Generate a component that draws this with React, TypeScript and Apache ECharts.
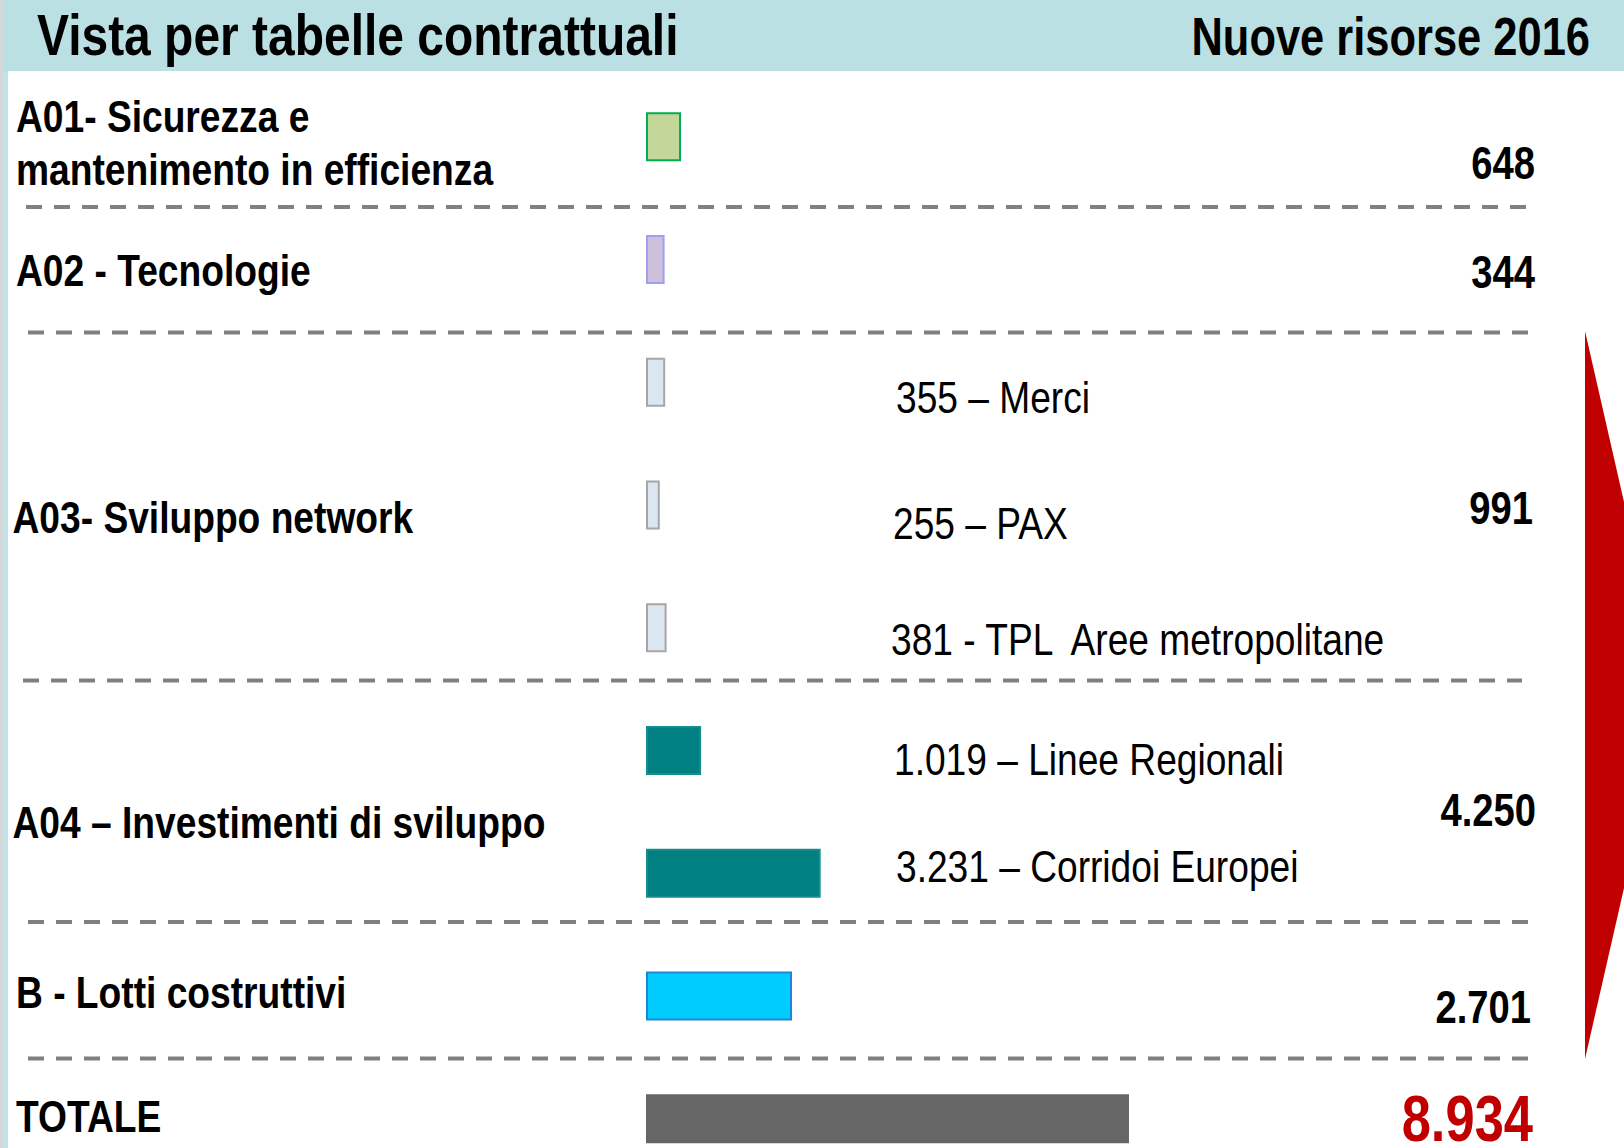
import React, { useEffect, useRef } from "react";
import * as echarts from "echarts";

// ---- data ----
const categories = [
  "A01",
  "A02",
  "Merci",
  "PAX",
  "TPL Aree metropolitane",
  "Linee Regionali",
  "Corridoi Europei",
  "B",
  "TOTALE",
];
const values = [648, 344, 355, 255, 381, 1019, 3231, 2701, 8934];
const barFills = ["#C4D79B", "#CCC0DA", "#DCE6F1", "#DCE6F1", "#DCE6F1", "#008080", "#008080", "#00CCFF", "#666666"];
const barBorders = ["#00B050", "#A0A0EE", "#A6A6A6", "#A6A6A6", "#A6A6A6", "#168C8C", "#168C8C", "#1E86D6", "#666666"];

const groupLabels = [
  "A01- Sicurezza e",
  "mantenimento in efficienza",
  "A02 - Tecnologie",
  "A03- Sviluppo network",
  "A04 – Investimenti di sviluppo",
  "B - Lotti costruttivi",
  "TOTALE",
];
const groupTotals = [648, 344, 991, 4250, 2701];
const grandTotal = 8934;
const subLabels = [
  "355 – Merci",
  "255 – PAX",
  "381 - TPL  Aree metropolitane",
  "1.019 – Linee Regionali",
  "3.231 – Corridoi Europei",
];
const titleLeft = "Vista per tabelle contrattuali";
const titleRight = "Nuove risorse 2016";

// ---- layout ----
const W = 1624;
const H = 1148;
const FONT = "'Liberation Sans', Arial, sans-serif";
const groupLabelPos = [
  [16, 116.5],
  [16, 170],
  [16, 271],
  [12.5, 518],
  [12.5, 823],
  [16, 993],
  [16, 1117],
];
const totalPos = [
  [1535, 163.5],
  [1535, 272.5],
  [1533, 508.5],
  [1536, 810.5],
  [1531, 1007],
];
const subLabelPos = [
  [896, 397.5],
  [893, 524],
  [891, 640],
  [894, 760],
  [896, 867],
];
const dashLines = [
  [26, 1528, 207],
  [28, 1530, 332.5],
  [23, 1522, 680.5],
  [28, 1530, 922],
  [28, 1531, 1058.5],
];

function fmt(n: number): string {
  return String(n).replace(/\B(?=(\d{3})+(?!\d))/g, ".");
}

function txt(
  text: string,
  x: number,
  y: number,
  size: number,
  weight: string,
  align: string,
  scaleX: number,
  fill = "#000000",
  lineHeight?: number
) {
  const style: any = {
    text,
    fontSize: size,
    fontWeight: weight,
    fontFamily: FONT,
    fill,
    align,
    verticalAlign: "middle",
  };
  if (lineHeight) style.lineHeight = lineHeight;
  return {
    type: "text",
    x,
    y,
    scaleX,
    silent: true,
    z: 10,
    style,
  };
}

export default function App() {
  const ref = useRef<HTMLDivElement>(null);

  useEffect(() => {
    if (!ref.current) return;
    const chart = echarts.init(ref.current, undefined, { renderer: "svg" });

    const graphic: any[] = [];
    // header band and left strip
    graphic.push({ type: "rect", shape: { x: 0, y: 0, width: W, height: 71 }, style: { fill: "#BBE0E3" }, silent: true, z: 1 });
    graphic.push({ type: "rect", shape: { x: 0, y: 0, width: 3, height: H }, style: { fill: "#D4D8D9" }, silent: true, z: 2 });
    graphic.push({ type: "rect", shape: { x: 3, y: 71, width: 5, height: H - 71 }, style: { fill: "#C2E3E8" }, silent: true, z: 2 });
    graphic.push(txt(titleLeft, 37, 35, 58, "bold", "left", 0.827));
    graphic.push(txt(titleRight, 1590, 36, 53, "bold", "right", 0.82));

    // dashed separators
    dashLines.forEach(([x1, x2, y]) => {
      graphic.push({
        type: "line",
        shape: { x1, y1: y, x2, y2: y },
        style: { stroke: "#808080", lineWidth: 4, lineDash: [16, 12] },
        silent: true,
        z: 3,
      });
    });

    groupLabels.forEach((t, i) => {
      graphic.push(txt(t, groupLabelPos[i][0], groupLabelPos[i][1], 44, "bold", "left", 0.845));
    });
    groupTotals.forEach((v, i) => {
      graphic.push(txt(fmt(v), totalPos[i][0], totalPos[i][1], 46, "bold", "right", 0.83));
    });
    graphic.push(txt(fmt(grandTotal), 1533, 1119, 64, "bold", "right", 0.82, "#C00000", 50));
    subLabels.forEach((t, i) => {
      graphic.push(txt(t, subLabelPos[i][0], subLabelPos[i][1], 45, "normal", "left", 0.825));
    });

    // red arrow
    graphic.push({
      type: "polygon",
      shape: { points: [[1585, 331], [1668, 695], [1585, 1059]] },
      style: { fill: "#C00000" },
      silent: true,
      z: 3,
    });

    chart.setOption({
      animation: false,
      backgroundColor: "#FFFFFF",
      grid: {
        left: 646,
        top: 75.3,
        width: 540.6,
        height: 1104.7,
        containLabel: false,
        outerBoundsMode: "none",
      },
      xAxis: { type: "value", min: 0, max: 10000, show: false },
      yAxis: { type: "category", data: categories, inverse: true, show: false },
      series: [
        {
          type: "bar",
          barWidth: 49,
          data: values.map((v, i) => ({
            value: v,
            itemStyle: {
              color: barFills[i],
              borderColor: barBorders[i],
              borderWidth: 2,
            },
          })),
        },
      ],
      graphic,
    });

    return () => chart.dispose();
  }, []);

  return (
    <div
      ref={ref}
      style={{ position: "fixed", left: 0, top: 0, width: W, height: H, background: "#FFFFFF" }}
    />
  );
}
